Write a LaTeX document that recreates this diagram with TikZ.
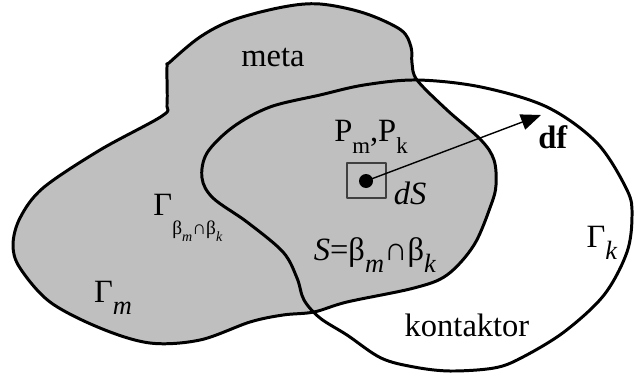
\documentclass[tikz,border=0pt]{standalone}
\usepackage{fontspec}
\setmainfont{Liberation Serif}
\usepackage{tikz}
\usetikzlibrary{arrows.meta}
\definecolor{metagray}{RGB}{191, 191, 191}
\newcommand{\subtxt}[2][15]{\raisebox{-0.8ex}{\fontsize{#1}{#1}\selectfont #2}}

\begin{document}
\begin{tikzpicture}[x=0.02cm, y=-0.02cm, line join=round,
  every node/.style={font=\fontsize{18.5}{20}\selectfont, inner sep=0pt},
  outline/.style={line width=1.7pt}]
\useasboundingbox (0,0) rectangle (634,375);
\filldraw[outline, fill=metagray] plot[smooth cycle, tension=0.55] coordinates {
  (170,62) (200,37) (233,20) (283,7) (320,4) (364,13) (401,30) (411,47) (412,63) (417,80)
  (447,110) (481,140) (494,160) (496,185) (491,205) (474,245) (447,275) (414,288) (347,302)
  (314,312) (283,315) (250,322) (200,340) (150,343) (100,328) (50,302) (20,268) (13,245)
  (20,218) (43,188) (100,150) (162,116) (167,104) (167,67)};
\draw[outline] plot[smooth cycle, tension=0.55] coordinates {
  (207,153) (233,127) (270,107) (320,95) (364,85) (417,80) (481,87) (547,107) (597,143)
  (627,190) (632,215) (627,252) (604,295) (564,332) (521,358) (494,368) (450,371) (414,367)
  (381,358) (347,335) (320,318) (304,300) (297,278) (283,252) (247,222) (213,198) (202,178)};
\node (meta) at (273,58) {meta};
\node (pmpk) at (371,137) {P\subtxt[13]{m},P\subtxt[13]{k}};
\node[draw=black!75, line width=0.8pt, minimum width=0.78cm, minimum height=0.7cm] (box) at (366.5,180.5) {};
\node[circle, fill=black, minimum size=0.28cm] (dot) at (366,181) {};
\coordinate (tip) at (541,115);
\draw[line width=0.8pt, -{Triangle[length=0.4cm, width=0.32cm]}] (dot.center) -- (tip);
\node (ds) at (410,193) {\textit{dS}};
\node (df) at (553,137) {\textbf{df}};
\node (gmk) at (188,218) {Γ\raisebox{-1.3ex}{\fontsize{11}{11}\selectfont β\subtxt[8]{\textit{m}}∩β\subtxt[8]{\textit{k}}}};
\node (gm) at (113,298) {Γ\subtxt{\textit{m}}};
\node (gk) at (602,243) {Γ\subtxt{\textit{k}}};
\node (intersect) at (375,255) {\textit{S}=β\subtxt{\textit{m}}∩β\subtxt{\textit{k}}};
\node (kontaktor) at (467,325) {kontaktor};
\end{tikzpicture}
\end{document}
